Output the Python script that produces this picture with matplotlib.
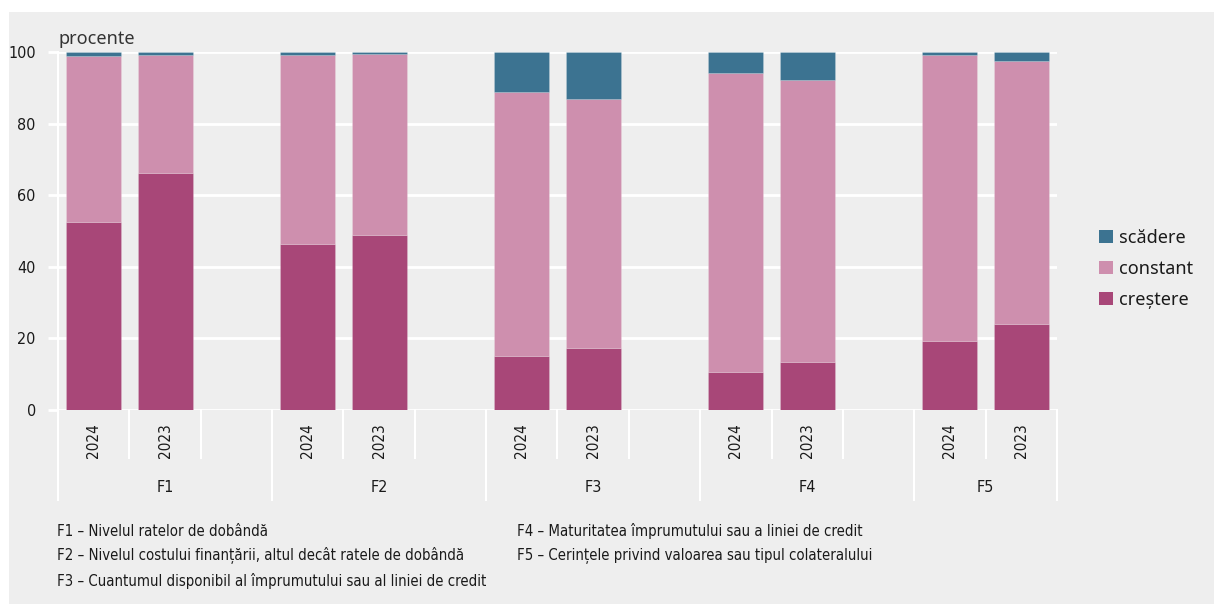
import matplotlib
matplotlib.use("Agg")
import matplotlib.pyplot as plt
from matplotlib.patches import Rectangle, Patch
import matplotlib.transforms as mtransforms

plt.rcParams['font.family'] = ['DejaVu Sans']
COND = dict(family="DejaVu Sans", fontstretch="condensed")
REG = dict(family=["Noto Sans", "DejaVu Sans"])

# Data
groups = ["F1", "F2", "F3", "F4", "F5"]
years = ["2024", "2023"]
crestere = [52.4, 66.1, 46.4, 48.9, 15.1, 17.3, 10.6, 13.4, 19.3, 24.0]
constant = [46.4, 33.1, 52.8, 50.6, 73.7, 69.7, 83.6, 78.9, 79.9, 73.6]
scadere = [1.2, 0.8, 0.8, 0.5, 11.2, 13.0, 5.8, 7.7, 0.8, 2.4]
yticks = [0, 20, 40, 60, 80, 100]
notes_left = [
    "F1 – Nivelul ratelor de dobândă",
    "F2 – Nivelul costului finanțării, altul decât ratele de dobândă",
    "F3 – Cuantumul disponibil al împrumutului sau al liniei de credit",
]
notes_right = [
    "F4 – Maturitatea împrumutului sau a liniei de credit",
    "F5 – Cerințele privind valoarea sau tipul colateralului",
]

c_scad = "#3c7391"
c_const = "#ce8fae"
c_cres = "#a84778"
bg = "#eeeeee"
txt = "#1a1a1a"

W, H = 1214, 604
fig = plt.figure(figsize=(W / 100, H / 100), dpi=100)
fig.patch.set_facecolor("white")
fig.patches.append(Rectangle((9 / W, 0), 1, 1 - 12 / H, transform=fig.transFigure,
                             facecolor=bg, edgecolor="none", zorder=-10))

ax_l, ax_r, ax_t, ax_b = 58, 1057, 52, 410
ax = fig.add_axes([ax_l / W, 1 - ax_b / H, (ax_r - ax_l) / W, (ax_b - ax_t) / H])
ax.set_facecolor(bg)

# slot positions: three slots per group, the last group has two
positions = []
for g in range(len(groups)):
    for k in range(len(years)):
        positions.append(g * 3 + k)
n_slots = 3 * (len(groups) - 1) + 2

bw = 0.77
bottom2 = [a + b for a, b in zip(crestere, constant)]
edge = dict(edgecolor="#ffffff30", linewidth=0.6, zorder=3)
ax.bar(positions, crestere, width=bw, color=c_cres, **edge)
ax.bar(positions, constant, bottom=crestere, width=bw, color=c_const, **edge)
ax.bar(positions, scadere, bottom=bottom2, width=bw, color=c_scad, **edge)

ax.set_xlim(-0.5, n_slots - 0.5)
ax.set_ylim(0, 100)
ax.set_yticks(yticks)
ax.set_yticklabels([str(v) for v in yticks])
for lab in ax.get_yticklabels():
    lab.set_fontsize(11.5)
    lab.set_color(txt)
    lab.set_fontstretch("condensed")
ax.tick_params(axis="y", length=7, width=2, color="white", pad=9)
ax.set_xticks([])
ax.grid(axis="y", color="white", linewidth=2, zorder=1)
for s in ["top", "right", "bottom"]:
    ax.spines[s].set_visible(False)
ax.spines["left"].set_color("white")
ax.spines["left"].set_linewidth(1.5)
ax.set_axisbelow(True)

ax.text(0, 1.01, "procente", transform=ax.transAxes, fontsize=13, color="#333333",
        ha="left", va="bottom", **REG)

# two-level category axis below the plot
trans = mtransforms.blended_transform_factory(ax.transData, ax.transAxes)
ph = ax_b - ax_t
y_short = -48 / ph
y_long = -90 / ph
for s in range(n_slots + 1):
    x = s - 0.5
    is_group = (s % 3 == 0) or s == n_slots
    ax.plot([x, x], [0, y_long if is_group else y_short], transform=trans,
            color="white", linewidth=1.5, clip_on=False, zorder=2)
for i, p in enumerate(positions):
    ax.text(p, -31 / ph, years[i % 2], transform=trans, rotation=90, ha="center",
            va="center", fontsize=11, color=txt, **COND)
for g, name in enumerate(groups):
    start = g * 3 - 0.5
    end = min(g * 3 + 2.5, n_slots - 0.5)
    ax.text((start + end) / 2, -77 / ph, name, transform=trans, ha="center",
            va="center", fontsize=11.5, color=txt, **COND)

# legend
handles = [Patch(facecolor=c_scad, label="scădere"),
           Patch(facecolor=c_const, label="constant"),
           Patch(facecolor=c_cres, label="creștere")]
fig.legend(handles=handles, loc="center left", bbox_to_anchor=(1083 / W, 1 - 269 / H),
           frameon=False, prop=dict(family=["Noto Sans", "DejaVu Sans"], size=13),
           handlelength=0.75, handleheight=0.75,
           handletextpad=0.35, labelspacing=0.72, labelcolor=txt)

# footnotes
for i, line in enumerate(notes_left):
    fig.text(57 / W, 1 - (531 + i * 25) / H, line, fontsize=10.7, color=txt,
             va="center", ha="left", **COND)
for i, line in enumerate(notes_right):
    fig.text(517 / W, 1 - (531 + i * 25) / H, line, fontsize=10.7, color=txt,
             va="center", ha="left", **COND)

fig.savefig("out.png", dpi=100, facecolor=fig.get_facecolor())
